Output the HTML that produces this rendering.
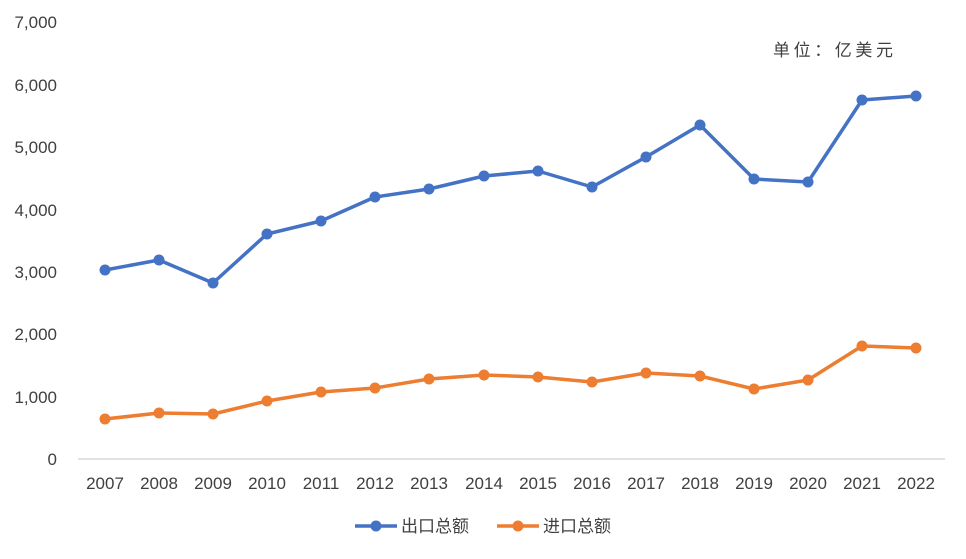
<!DOCTYPE html>
<html><head><meta charset="utf-8"><style>
html,body{margin:0;padding:0;background:#fff;}
svg{display:block;}
text{font-family:"Liberation Sans","Noto Sans CJK SC",sans-serif;fill:#404040;}
</style></head><body>
<svg width="966" height="559" viewBox="0 0 966 559">
<line x1="78" y1="459" x2="945" y2="459" stroke="#d9d9d9" stroke-width="1.5"/>
<g font-size="17" text-anchor="end">
<text x="57" y="465">0</text>
<text x="57" y="403">1,000</text>
<text x="57" y="340">2,000</text>
<text x="57" y="278">3,000</text>
<text x="57" y="216">4,000</text>
<text x="57" y="153">5,000</text>
<text x="57" y="91">6,000</text>
<text x="57" y="28">7,000</text>
</g>
<g font-size="17" text-anchor="middle">
<text x="105" y="489">2007</text><text x="159" y="489">2008</text><text x="213" y="489">2009</text><text x="267" y="489">2010</text><text x="321" y="489">2011</text><text x="375" y="489">2012</text><text x="429" y="489">2013</text><text x="484" y="489">2014</text><text x="538" y="489">2015</text><text x="592" y="489">2016</text><text x="646" y="489">2017</text><text x="700" y="489">2018</text><text x="754" y="489">2019</text><text x="808" y="489">2020</text><text x="862" y="489">2021</text><text x="916" y="489">2022</text>
</g>
<text x="773" y="56" font-size="17" letter-spacing="3.6">单位：亿美元</text>
<g stroke="#4472c4" stroke-width="3.5" fill="none" stroke-linejoin="round">
<polyline points="105,270 159,260 213,283 267,234 321,221 375,197 429,189 484,176 538,171 592,187 646,157 700,125 754,179 808,182 862,100 916,96"/>
</g>
<g fill="#4472c4">
<circle cx="105" cy="270" r="5.5"/><circle cx="159" cy="260" r="5.5"/><circle cx="213" cy="283" r="5.5"/><circle cx="267" cy="234" r="5.5"/><circle cx="321" cy="221" r="5.5"/><circle cx="375" cy="197" r="5.5"/><circle cx="429" cy="189" r="5.5"/><circle cx="484" cy="176" r="5.5"/><circle cx="538" cy="171" r="5.5"/><circle cx="592" cy="187" r="5.5"/><circle cx="646" cy="157" r="5.5"/><circle cx="700" cy="125" r="5.5"/><circle cx="754" cy="179" r="5.5"/><circle cx="808" cy="182" r="5.5"/><circle cx="862" cy="100" r="5.5"/><circle cx="916" cy="96" r="5.5"/>
</g>
<g stroke="#ed7d31" stroke-width="3.5" fill="none" stroke-linejoin="round">
<polyline points="105,419 159,413 213,414 267,401 321,392 375,388 429,379 484,375 538,377 592,382 646,373 700,376 754,389 808,380 862,346 916,348"/>
</g>
<g fill="#ed7d31">
<circle cx="105" cy="419" r="5.5"/><circle cx="159" cy="413" r="5.5"/><circle cx="213" cy="414" r="5.5"/><circle cx="267" cy="401" r="5.5"/><circle cx="321" cy="392" r="5.5"/><circle cx="375" cy="388" r="5.5"/><circle cx="429" cy="379" r="5.5"/><circle cx="484" cy="375" r="5.5"/><circle cx="538" cy="377" r="5.5"/><circle cx="592" cy="382" r="5.5"/><circle cx="646" cy="373" r="5.5"/><circle cx="700" cy="376" r="5.5"/><circle cx="754" cy="389" r="5.5"/><circle cx="808" cy="380" r="5.5"/><circle cx="862" cy="346" r="5.5"/><circle cx="916" cy="348" r="5.5"/>
</g>
<line x1="355" y1="526" x2="397" y2="526" stroke="#4472c4" stroke-width="3.5"/>
<circle cx="376" cy="526" r="5.5" fill="#4472c4"/>
<text x="401" y="532" font-size="17">出口总额</text>
<line x1="497" y1="526" x2="539" y2="526" stroke="#ed7d31" stroke-width="3.5"/>
<circle cx="518" cy="526" r="5.5" fill="#ed7d31"/>
<text x="543" y="532" font-size="17">进口总额</text>
</svg>
</body></html>
